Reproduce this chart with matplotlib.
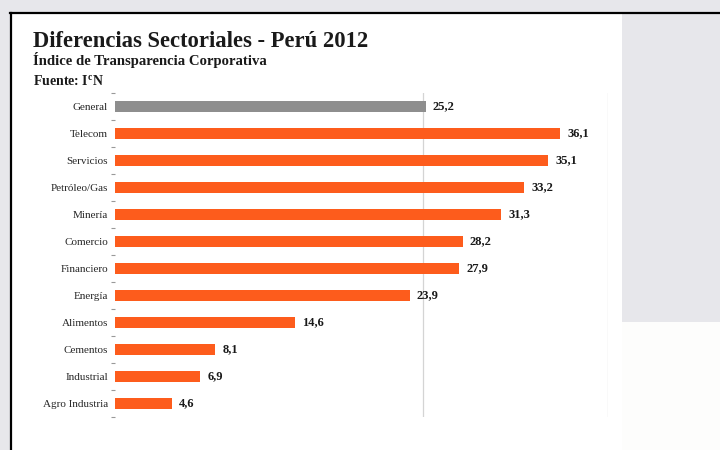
import matplotlib
matplotlib.use("Agg")
import matplotlib.pyplot as plt
from matplotlib.patches import Rectangle
from matplotlib.lines import Line2D

sectores = ["General", "Telecom", "Servicios", "Petróleo/Gas", "Minería", "Comercio",
            "Financiero", "Energía", "Alimentos", "Cementos", "Industrial", "Agro Industria"]
valores = [25.2, 36.1, 35.1, 33.2, 31.3, 28.2, 27.9, 23.9, 14.6, 8.1, 6.9, 4.6]
etiquetas = ["25,2", "36,1", "35,1", "33,2", "31,3", "28,2", "27,9", "23,9", "14,6", "8,1", "6,9", "4,6"]

NARANJA = "#fd5c1c"
GRIS = "#8e8e8e"
SERIF = "Liberation Serif"

plt.rcParams["mathtext.fontset"] = "custom"
plt.rcParams["mathtext.rm"] = SERIF
plt.rcParams["mathtext.bf"] = SERIF + ":bold"


def main():
	fig = plt.figure(figsize=(7.2, 4.5), dpi=100, facecolor="#e7e7eb")
	W, H = 720, 450

	# white slide panel and the black frame around it
	fig.patches.append(Rectangle((11 / W, 0), 611 / W, 1 - 13 / H, transform=fig.transFigure,
	                             facecolor="white", edgecolor="none", zorder=-10))
	fig.patches.append(Rectangle((622 / W, 0), 98 / W, 1 - 322 / H, transform=fig.transFigure,
	                             facecolor="#fdfdfc", edgecolor="none", zorder=-10))
	fig.lines.append(Line2D([10 / W, 1], [1 - 13 / H, 1 - 13 / H], transform=fig.transFigure,
	                        color="black", lw=1.6, zorder=-5))
	fig.lines.append(Line2D([11 / W, 11 / W], [0, 1 - 13 / H], transform=fig.transFigure,
	                        color="black", lw=1.6, zorder=-5))

	ax = fig.add_axes([115 / W, 1 - 417 / H, 493 / W, 324 / H])
	ax.set_facecolor("none")
	ypos = list(range(len(sectores)))
	colores = [GRIS] + [NARANJA] * (len(sectores) - 1)
	ax.barh(ypos, valores, height=0.4, color=colores, zorder=2)

	for y, v, t in zip(ypos, valores, etiquetas):
		ax.text(v + 0.6, y, t, va="center", ha="left", fontsize=9, fontweight="bold",
		        family=SERIF, color="#1a1a1a")

	ax.set_xlim(0, 40)
	ax.set_ylim(len(sectores) - 0.5, -0.5)
	ax.set_xticks([25, 40])
	ax.set_xticklabels([])
	ax.tick_params(axis="x", length=0)
	ax.grid(axis="x", color="#d4d4d4", lw=0.9, zorder=1)

	ax.set_yticks(ypos)
	ax.set_yticklabels(sectores, family=SERIF, fontsize=8, color="#262626")
	ax.tick_params(axis="y", which="major", length=0, pad=5)
	ax.set_yticks([y + 0.5 for y in range(-1, len(sectores))], minor=True)
	ax.tick_params(axis="y", which="minor", length=3, color="#999999", width=0.8)
	for s in ax.spines.values():
		s.set_visible(False)

	fig.text(33 / W, 1 - 47 / H, "Diferencias Sectoriales - Perú 2012", family=SERIF,
	         fontweight="bold", fontsize=16.3, color="#1a1a1a", va="baseline")
	fig.text(33 / W, 1 - 65 / H, "Índice de Transparencia Corporativa", family=SERIF,
	         fontweight="bold", fontsize=10.6, color="#1a1a1a", va="baseline")
	fig.text(33 / W, 1 - 86 / H, r"Fuente: I$^{\mathbf{c}}$N", family=SERIF,
	         fontweight="bold", fontsize=10, color="#1a1a1a", va="baseline")

	fig.savefig("out.png", dpi=100, facecolor=fig.get_facecolor())


if __name__ == "__main__":
	main()
